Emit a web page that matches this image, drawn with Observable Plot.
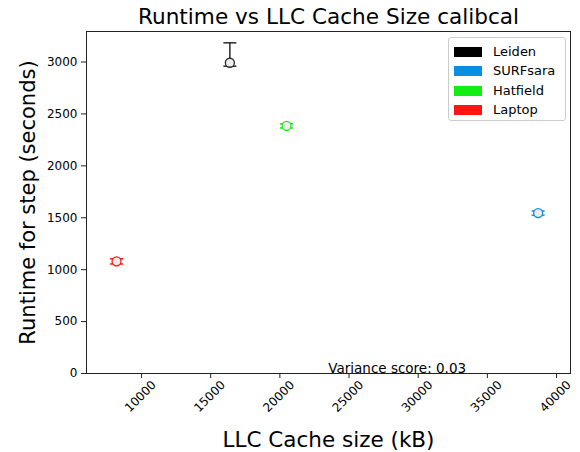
<!DOCTYPE html>
<html>
<head>
<meta charset="utf-8">
<script src="https://cdn.jsdelivr.net/npm/d3@7"></script>
<script src="https://cdn.jsdelivr.net/npm/@observablehq/plot@0.6"></script>
<style>
  html, body { margin: 0; padding: 0; background: #fff; }
  #wrap { position: relative; width: 580px; height: 452px; font-family: "DejaVu Sans", sans-serif; }
  #legend { position: absolute; left: 448px; top: 37px; width: 118px; height: 84px;
            border: 1px solid #cccccc; border-radius: 3px; background: rgba(255,255,255,0.8); box-sizing: border-box; }
  .row { position: absolute; left: 0; height: 14px; }
  .sw { position: absolute; left: 5px; top: 2px; width: 28px; height: 10px; }
  .lb { position: absolute; left: 44px; top: -1px; font-size: 13px; color: #000; white-space: nowrap; line-height: 16px; }
</style>
</head>
<body>
<div id="wrap"></div>
<script>
// ---- data ----
const sites    = ["Leiden", "SURFsara", "Hatfield", "Laptop"];
const cacheKB  = [16384, 38670, 20480, 8192];
const runtime  = [2993, 1545, 2385, 1080];
const errLow   = [2960, 1525, 2365, 1055];
const errHigh  = [3185, 1565, 2405, 1105];
const colors   = ["#2a2a2a", "#0a8ee0", "#11ee11", "#ff1414"];
const legendColors = ["#000000", "#0a8ee0", "#11ee11", "#ff1414"];
const xTicks   = [10000, 15000, 20000, 25000, 30000, 35000, 40000];
const yTicks   = [0, 500, 1000, 1500, 2000, 2500, 3000];
const titleText = "Runtime vs LLC Cache Size calibcal";
const xLabel = "LLC Cache size (kB)";
const yLabel = "Runtime for step (seconds)";
const note = {x: 23500, y: 0, text: "Variance score: 0.03"};

const rows = sites.map((s, i) => ({site: s, x: cacheKB[i], y: runtime[i], lo: errLow[i], hi: errHigh[i]}));
const capLo = rows.map(d => ({site: d.site, x: d.x, y: d.lo}));
const capHi = rows.map(d => ({site: d.site, x: d.x, y: d.hi}));
const caps = capLo.concat(capHi);

const hline = { draw(context, size) { const r = Math.sqrt(size / Math.PI); context.moveTo(-r, 0); context.lineTo(r, 0); } };

const chart = Plot.plot({
  width: 580,
  height: 452,
  marginLeft: 86,
  marginRight: 10,
  marginTop: 31,
  marginBottom: 79,
  style: {fontFamily: "DejaVu Sans, sans-serif", background: "white", color: "#000"},
  x: {domain: [6020, 41010]},
  y: {domain: [0, 3294]},
  color: {domain: sites, range: colors},
  marks: [
    Plot.frame({stroke: "#222", strokeWidth: 1}),
    Plot.axisY({ticks: yTicks, tickSize: 5, tickPadding: 4, fontSize: 12, tickFormat: d => String(d), label: null, stroke: "#222"}),
    Plot.axisX({ticks: xTicks, tickSize: 5, tickFormat: () => "", label: null, stroke: "#222"}),
    Plot.text(xTicks, {x: d => d, text: d => String(d), frameAnchor: "bottom", dy: 23, dx: -1, rotate: -45,
                       textAnchor: "middle", lineAnchor: "middle", fontSize: 12, fill: "#000"}),
    Plot.ruleX(rows, {x: "x", y1: "lo", y2: "hi", stroke: "site", strokeWidth: 1.5}),
    Plot.dot(caps, {x: "x", y: "y", symbol: hline, r: 6.5, stroke: "site", strokeWidth: 1.5, fill: "none"}),
    Plot.dot(rows, {x: "x", y: "y", r: 4.5, stroke: "site", fill: "#eeeeee", strokeWidth: 1.3}),
    Plot.text([note], {x: "x", y: "y", text: "text", textAnchor: "start", lineAnchor: "bottom", dy: -1, fontSize: 13.5, fill: "#000"}),
    Plot.text([titleText], {text: d => d, frameAnchor: "top", lineAnchor: "bottom", dy: -7.5, fontSize: 21.6, fill: "#000"}),
    Plot.text([xLabel], {text: d => d, frameAnchor: "bottom", lineAnchor: "bottom", dy: 73, fontSize: 21.5, fill: "#000"}),
    Plot.text([yLabel], {text: d => d, frameAnchor: "left", textAnchor: "middle", lineAnchor: "bottom", rotate: -90, dx: -52, fontSize: 21, fill: "#000"})
  ]
});

const wrap = document.getElementById("wrap");
wrap.appendChild(chart);

const legend = document.createElement("div");
legend.id = "legend";
sites.forEach((s, i) => {
  const row = document.createElement("div");
  row.className = "row";
  row.style.top = (7 + i * 19.3) + "px";
  const sw = document.createElement("div");
  sw.className = "sw";
  sw.style.background = legendColors[i];
  const lb = document.createElement("div");
  lb.className = "lb";
  lb.textContent = s;
  row.appendChild(sw);
  row.appendChild(lb);
  legend.appendChild(row);
});
wrap.appendChild(legend);
</script>
</body>
</html>
